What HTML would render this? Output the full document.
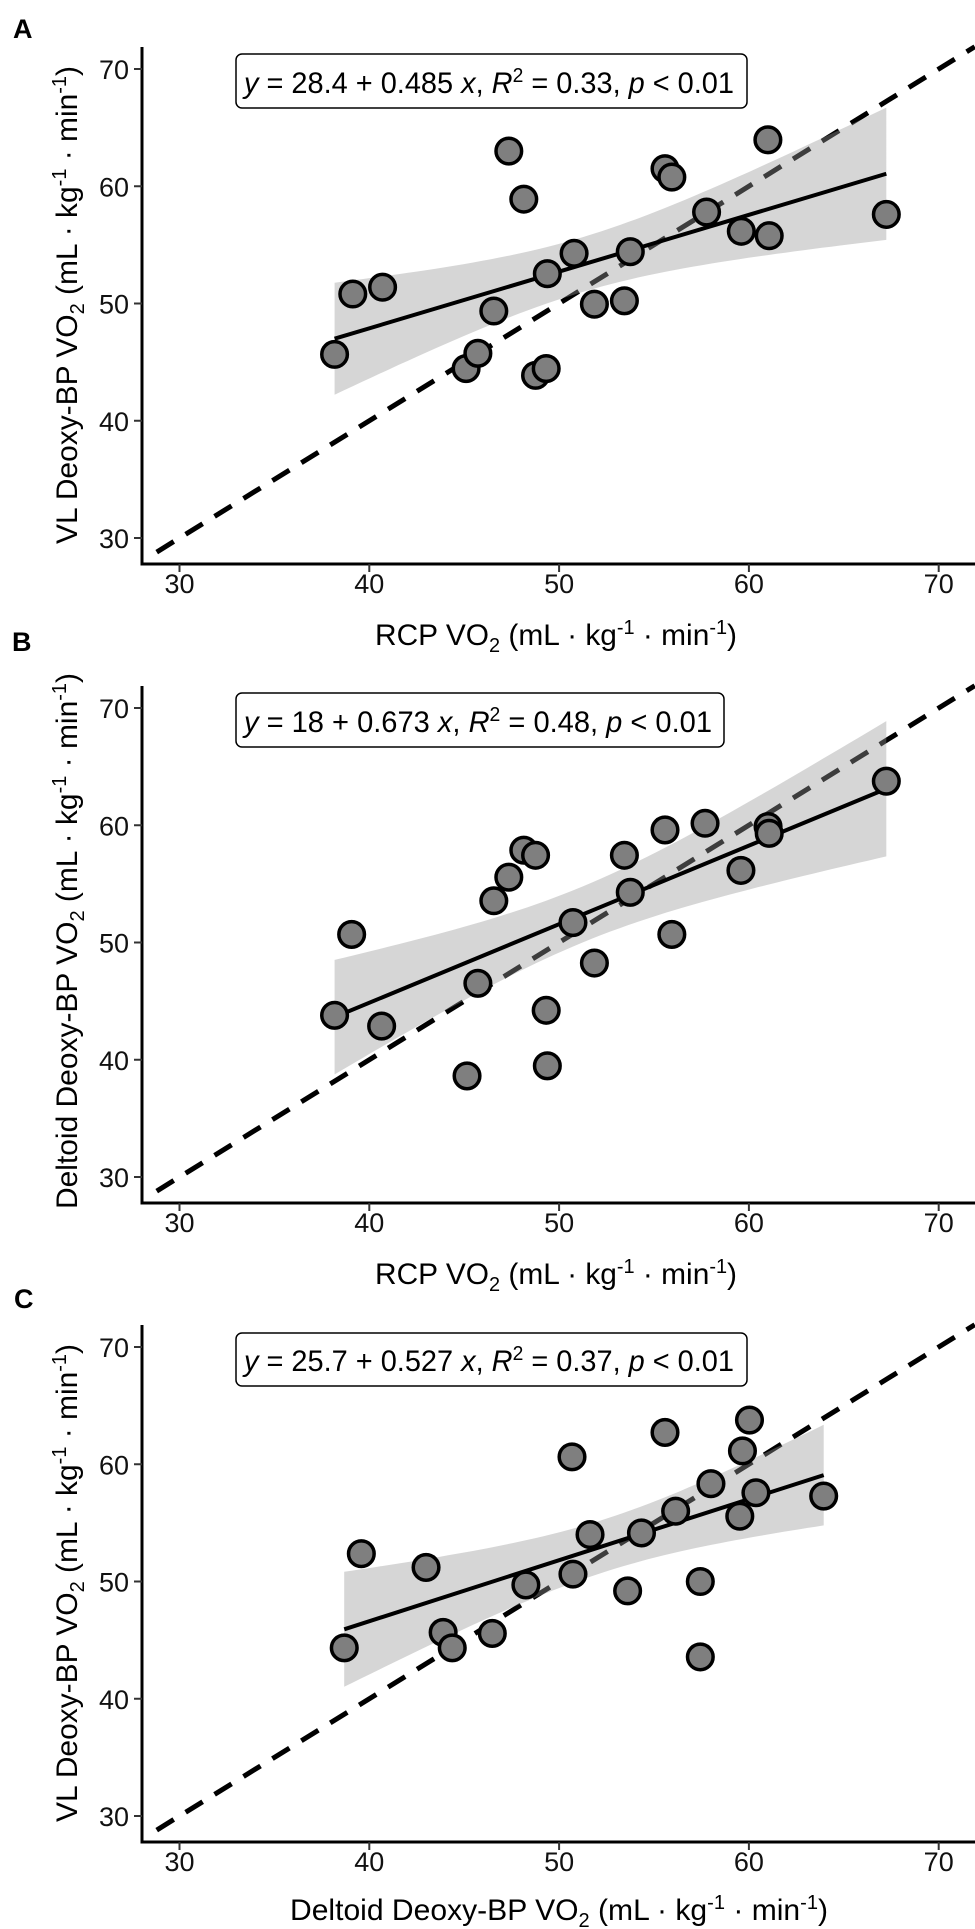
<!DOCTYPE html>
<html>
<head>
<meta charset="utf-8">
<style>
  html, body { margin: 0; padding: 0; background: #fff; }
  svg { display: block; font-family: "Liberation Sans", Arial, sans-serif; }
</style>
</head>
<body>
<svg id="fig" width="975" height="1929" viewBox="0 0 975 1929" xmlns="http://www.w3.org/2000/svg">
  <rect x="0" y="0" width="975" height="1929" fill="#ffffff"/>

  <!-- Panel letters -->
  <text x="13" y="38" font-size="27" font-weight="bold">A</text>
  <text x="12" y="651" font-size="27" font-weight="bold">B</text>
  <text x="14" y="1308" font-size="27" font-weight="bold">C</text>

  <!-- Y axis titles -->
  <text transform="translate(77,305) rotate(-90)" text-anchor="middle" font-size="30" textLength="478" lengthAdjust="spacingAndGlyphs">VL Deoxy-BP VO<tspan dy="7" font-size="20">2</tspan><tspan dy="-7"> (mL · kg</tspan><tspan dy="-11" font-size="20">-1</tspan><tspan dy="11"> · min</tspan><tspan dy="-11" font-size="20">-1</tspan><tspan dy="11">)</tspan></text>
  <text transform="translate(77,941) rotate(-90)" text-anchor="middle" font-size="30" textLength="536" lengthAdjust="spacingAndGlyphs">Deltoid Deoxy-BP VO<tspan dy="7" font-size="20">2</tspan><tspan dy="-7"> (mL · kg</tspan><tspan dy="-11" font-size="20">-1</tspan><tspan dy="11"> · min</tspan><tspan dy="-11" font-size="20">-1</tspan><tspan dy="11">)</tspan></text>
  <text transform="translate(77,1583) rotate(-90)" text-anchor="middle" font-size="30" textLength="478" lengthAdjust="spacingAndGlyphs">VL Deoxy-BP VO<tspan dy="7" font-size="20">2</tspan><tspan dy="-7"> (mL · kg</tspan><tspan dy="-11" font-size="20">-1</tspan><tspan dy="11"> · min</tspan><tspan dy="-11" font-size="20">-1</tspan><tspan dy="11">)</tspan></text>

  <!-- X axis titles -->
  <text x="375" y="645" font-size="30" textLength="362" lengthAdjust="spacingAndGlyphs">RCP VO<tspan dy="7" font-size="20">2</tspan><tspan dy="-7"> (mL · kg</tspan><tspan dy="-11" font-size="20">-1</tspan><tspan dy="11"> · min</tspan><tspan dy="-11" font-size="20">-1</tspan><tspan dy="11">)</tspan></text>
  <text x="375" y="1284" font-size="30" textLength="362" lengthAdjust="spacingAndGlyphs">RCP VO<tspan dy="7" font-size="20">2</tspan><tspan dy="-7"> (mL · kg</tspan><tspan dy="-11" font-size="20">-1</tspan><tspan dy="11"> · min</tspan><tspan dy="-11" font-size="20">-1</tspan><tspan dy="11">)</tspan></text>
  <text x="290" y="1920" font-size="30" textLength="538" lengthAdjust="spacingAndGlyphs">Deltoid Deoxy-BP VO<tspan dy="7" font-size="20">2</tspan><tspan dy="-7"> (mL · kg</tspan><tspan dy="-11" font-size="20">-1</tspan><tspan dy="11"> · min</tspan><tspan dy="-11" font-size="20">-1</tspan><tspan dy="11">)</tspan></text>

  <g id="marks"></g>

  <!-- Equation boxes -->
  <g>
    <rect x="236" y="54" width="511" height="54" rx="6" fill="#fff" stroke="#000" stroke-width="1.5"/>
    <text x="244" y="93" font-size="30" textLength="490" lengthAdjust="spacingAndGlyphs"><tspan font-style="italic">y</tspan> = 28.4 + 0.485 <tspan font-style="italic">x</tspan>, <tspan font-style="italic">R</tspan><tspan dy="-11" font-size="20">2</tspan><tspan dy="11"> = 0.33, </tspan><tspan font-style="italic">p</tspan> &lt; 0.01</text>
  </g>
  <g>
    <rect x="236" y="693" width="488" height="54" rx="6" fill="#fff" stroke="#000" stroke-width="1.5"/>
    <text x="244" y="732" font-size="30" textLength="468" lengthAdjust="spacingAndGlyphs"><tspan font-style="italic">y</tspan> = 18 + 0.673 <tspan font-style="italic">x</tspan>, <tspan font-style="italic">R</tspan><tspan dy="-11" font-size="20">2</tspan><tspan dy="11"> = 0.48, </tspan><tspan font-style="italic">p</tspan> &lt; 0.01</text>
  </g>
  <g>
    <rect x="236" y="1333" width="511" height="53" rx="6" fill="#fff" stroke="#000" stroke-width="1.5"/>
    <text x="244" y="1371" font-size="30" textLength="490" lengthAdjust="spacingAndGlyphs"><tspan font-style="italic">y</tspan> = 25.7 + 0.527 <tspan font-style="italic">x</tspan>, <tspan font-style="italic">R</tspan><tspan dy="-11" font-size="20">2</tspan><tspan dy="11"> = 0.37, </tspan><tspan font-style="italic">p</tspan> &lt; 0.01</text>
  </g>
</svg>

<script>
// ---- Data ----
const tickValues = [30, 40, 50, 60, 70];
const tickLabels = ["30", "40", "50", "60", "70"];
const rcpVO2 = [38.17, 39.13, 40.70, 45.10, 45.72, 46.56, 47.35, 48.14, 48.76, 49.32, 49.38, 50.79, 51.86, 53.44, 53.75, 55.58, 55.94, 57.77, 59.60, 61.00, 61.07, 67.24];
const vlVO2_A = [45.66, 50.81, 51.39, 44.45, 45.75, 49.36, 63.00, 58.90, 43.87, 44.45, 52.54, 54.28, 49.94, 50.23, 54.42, 61.50, 60.78, 57.80, 56.16, 63.96, 55.78, 57.60];
const rcpVO2_B = [38.17, 39.07, 40.65, 45.15, 45.72, 46.56, 47.35, 48.14, 48.76, 49.32, 49.38, 50.73, 51.86, 53.44, 53.75, 55.58, 55.94, 57.69, 59.58, 61.01, 61.07, 67.24];
const deltoidVO2_B = [43.79, 50.69, 42.87, 38.62, 46.52, 53.56, 55.57, 57.87, 57.44, 44.22, 39.48, 51.70, 48.25, 57.44, 54.28, 59.60, 50.69, 60.17, 56.15, 59.89, 59.31, 63.76];
const deltoidVO2_C = [38.68, 39.58, 42.99, 43.89, 44.37, 46.48, 48.25, 50.68, 50.73, 51.63, 53.61, 54.34, 55.58, 56.14, 57.44, 57.44, 58.00, 59.66, 59.52, 60.03, 60.37, 63.94];
const vlVO2_C = [44.34, 52.37, 51.20, 45.66, 44.34, 45.57, 49.71, 60.63, 50.63, 54.00, 49.20, 54.14, 62.71, 56.00, 50.00, 43.57, 58.34, 61.14, 55.57, 63.77, 57.57, 57.29];

const panels = [
  { id: "a", xs: rcpVO2, ys: vlVO2_A, off: 0 },
  { id: "b", xs: rcpVO2_B, ys: deltoidVO2_B, off: 639 },
  { id: "c", xs: deltoidVO2_C, ys: vlVO2_C, off: 1278 }
];

const NS = "http://www.w3.org/2000/svg";
const marks = document.getElementById("marks");
function mk(tag, attrs, parent) {
  const e = document.createElementNS(NS, tag);
  for (const k in attrs) e.setAttribute(k, attrs[k]);
  (parent || marks).appendChild(e);
  return e;
}

const AX_LEFT = 142, AX_RIGHT = 975;
function xScale(v) { return 179.5 + (v - 30) * 18.98; }
function yScaleFor(off) { return v => 538 + off - (v - 30) * 11.725; }

panels.forEach(p => {
  const yS = yScaleFor(p.off);
  const g = mk("g", {});
  
  

  // identity dashed line
  const idLine = mk("line", { x1: xScale(28.8), y1: yS(28.8), x2: xScale(71.9), y2: yS(71.9), stroke: "#000", "stroke-width": 5, "stroke-dasharray": "20 14" }, g);
  
  

  // regression
  const n = p.xs.length;
  const mx = p.xs.reduce((a, b) => a + b, 0) / n;
  const my = p.ys.reduce((a, b) => a + b, 0) / n;
  let sxx = 0, sxy = 0;
  for (let i = 0; i < n; i++) { sxx += (p.xs[i] - mx) ** 2; sxy += (p.xs[i] - mx) * (p.ys[i] - my); }
  const b1 = sxy / sxx, b0 = my - b1 * mx;
  let sse = 0;
  for (let i = 0; i < n; i++) sse += (p.ys[i] - b0 - b1 * p.xs[i]) ** 2;
  const s = Math.sqrt(sse / (n - 2));
  const t = 2.086;
  const xmin = Math.min(...p.xs), xmax = Math.max(...p.xs);
  const upper = [], lower = [];
  for (let k = 0; k <= 60; k++) {
    const x = xmin + (xmax - xmin) * k / 60;
    const se = s * Math.sqrt(1 / n + (x - mx) ** 2 / sxx);
    const f = b0 + b1 * x;
    upper.push(xScale(x).toFixed(1) + "," + yS(f + t * se).toFixed(1));
    lower.unshift(xScale(x).toFixed(1) + "," + yS(f - t * se).toFixed(1));
  }
  const band = mk("polygon", { points: upper.concat(lower).join(" "), fill: "#999999", "fill-opacity": 0.4 }, g);
  
  
  const reg = mk("line", { x1: xScale(xmin), y1: yS(b0 + b1 * xmin), x2: xScale(xmax), y2: yS(b0 + b1 * xmax), stroke: "#000", "stroke-width": 4 }, g);
  
  

  // points
  for (let i = 0; i < n; i++) {
    const c = mk("circle", { cx: xScale(p.xs[i]), cy: yS(p.ys[i]), r: 12.8, fill: "#7f7f7f", stroke: "#000", "stroke-width": 3.5 }, g);
    
    
  }

  // axes
  const yAxis = mk("line", { x1: AX_LEFT, y1: 47 + p.off, x2: AX_LEFT, y2: 565.5 + p.off, stroke: "#000", "stroke-width": 3 }, g);
  
  
  const xAxis = mk("line", { x1: AX_LEFT - 1.5, y1: 564 + p.off, x2: AX_RIGHT, y2: 564 + p.off, stroke: "#000", "stroke-width": 3 }, g);
  
  

  tickValues.forEach((v, i) => {
    const xt = mk("line", { x1: xScale(v), y1: 564 + p.off, x2: xScale(v), y2: 572 + p.off, stroke: "#333", "stroke-width": 2 }, g);
    
    
    const xl = mk("text", { x: xScale(v), y: 593 + p.off, "text-anchor": "middle", "font-size": 27, fill: "#111" }, g);
    
    
    xl.textContent = tickLabels[i];

    const yt = mk("line", { x1: 134, y1: yS(v), x2: AX_LEFT, y2: yS(v), stroke: "#333", "stroke-width": 2 }, g);
    
    
    const yl = mk("text", { x: 129, y: yS(v) + 10, "text-anchor": "end", "font-size": 27, fill: "#111" }, g);
    
    
    yl.textContent = tickLabels[i];
  });
});
</script>
</body>
</html>
